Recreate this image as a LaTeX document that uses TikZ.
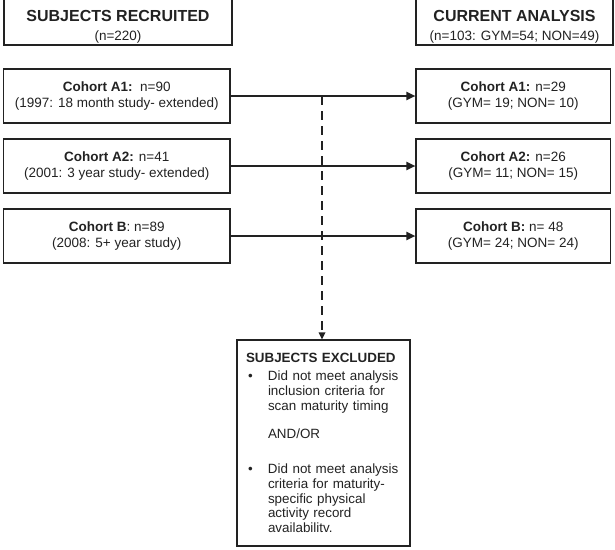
\documentclass[tikz,border=0pt]{standalone}
\usepackage{fontspec}
\setmainfont{Liberation Sans}
\usetikzlibrary{arrows.meta}
\definecolor{ink}{HTML}{222222}
\tikzset{
  box/.style={draw=ink, line width=1.1pt, rectangle, inner sep=0pt, align=center, text=ink},
  headbox/.style={box, minimum width=#1, minimum height=46pt, font=\fontsize{13.5}{19}\selectfont},
  cohbox/.style={box, minimum width=#1, minimum height=54pt, font=\fontsize{13.5}{16}\selectfont},
  flow/.style={draw=ink, line width=2pt, -{Triangle[length=9pt,width=8pt]}},
  dashflow/.style={draw=ink, line width=1.6pt, dash pattern=on 9pt off 6pt, -{Triangle[length=7pt,width=6.5pt]}}
}
\newcommand{\hd}[1]{{\fontsize{16}{19}\selectfont\bfseries\rule{0pt}{20.5pt}#1}}
\begin{document}
\begin{tikzpicture}[x=1pt,y=-1pt]
\useasboundingbox (0,0) rectangle (615,549);
% headers
\node[headbox=228pt] (rec) at (118,22) {\hd{SUBJECTS RECRUITED}\\(n=220)};
\node[headbox=197pt] (cur) at (514.5,22) {\hd{CURRENT ANALYSIS}\\(n=103: GYM=54; NON=49)};
% left cohorts
\node[cohbox=226.5pt] (la1) at (116.75,96) {\textbf{Cohort A1:}\ \ n=90\\(1997: 18 month study- extended)};
\node[cohbox=226.5pt] (la2) at (116.75,166) {\textbf{Cohort A2:} n=41\\(2001: 3 year study- extended)};
\node[cohbox=226.5pt] (lb) at (116.75,236) {\textbf{Cohort B}: n=89\\(2008: 5+ year study)};
% right cohorts
\node[cohbox=194.5pt] (ra1) at (513.25,96) {\textbf{Cohort A1:} n=29\\(GYM= 19; NON= 10)};
\node[cohbox=194.5pt] (ra2) at (513.25,166) {\textbf{Cohort A2:} n=26\\(GYM= 11; NON= 15)};
\node[cohbox=194.5pt] (rb) at (513.25,236) {\textbf{Cohort B:} n= 48\\(GYM= 24; NON= 24)};
% excluded
\node[box, minimum width=173pt, minimum height=206pt, text width=155pt, align=left,
      font=\fontsize{13.4}{14.8}\selectfont] (excl) at (323.5,443)
{\textbf{SUBJECTS EXCLUDED}\\[3.5pt]
\makebox[22pt][l]{\hspace*{2pt}\textbullet}Did not meet analysis\\
\hspace*{22pt}inclusion criteria for\\
\hspace*{22pt}scan maturity timing\\[13pt]
\hspace*{22pt}AND/OR\\[20.5pt]
\makebox[22pt][l]{\hspace*{2pt}\textbullet}Did not meet analysis\\
\hspace*{22pt}criteria for maturity-\\
\hspace*{22pt}specific physical\\
\hspace*{22pt}activity record\\
\hspace*{22pt}availabilitv.};
% arrows
\draw[flow] (la1) -- (ra1);
\draw[flow] (la2) -- (ra2);
\draw[flow] (lb) -- (rb);
\coordinate (dstart) at (322,96);
\draw[dashflow] (dstart) -- (dstart |- excl.north);
\end{tikzpicture}
\end{document}
